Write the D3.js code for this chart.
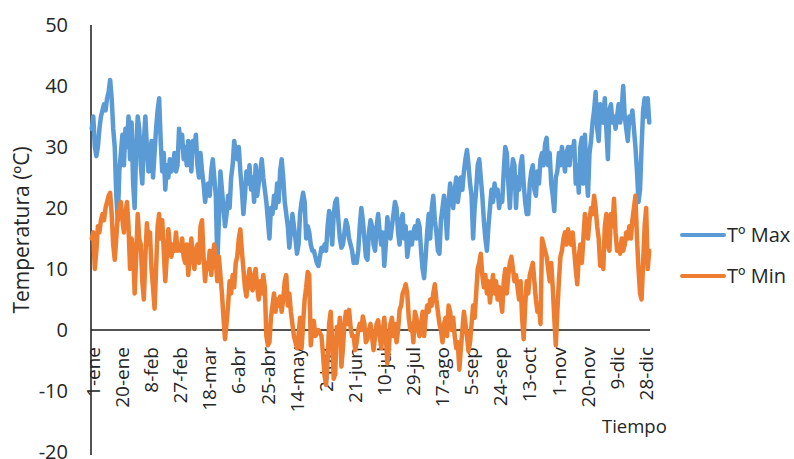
<!DOCTYPE html>
<html>
<head>
<meta charset="utf-8">
<script src="https://cdn.jsdelivr.net/npm/d3@7"></script>
<style>
  body { margin: 0; background: #fff; }
  svg text { font-family: "Open Sans", sans-serif; fill: #262626; }
</style>
</head>
<body>
<div id="chart"></div>
<script>
// categories: one per day of the year, "1-ene" ... "31-dic"
const months = ['ene', 'feb', 'mar', 'abr', 'may', 'jun', 'jul', 'ago', 'sep', 'oct', 'nov', 'dic'];
const monthDays = [31, 28, 31, 30, 31, 30, 31, 31, 30, 31, 30, 31];
const days = [];
months.forEach((m, i) => { for (let d = 1; d <= monthDays[i]; d++) days.push(d + '-' + m); });

// labels shown on the category axis (every 19th day)
const tickLabels = ['1-ene', '20-ene', '8-feb', '27-feb', '18-mar', '6-abr', '25-abr', '14-may', '2-jun', '21-jun',
  '10-jul', '29-jul', '17-ago', '5-sep', '24-sep', '13-oct', '1-nov', '20-nov', '9-dic', '28-dic'];
const yTicks = [-20, -10, 0, 10, 20, 30, 40, 50];

const seriesNames = ['Tº Max', 'Tº Min'];

// daily maximum temperature (ºC)
const tmax = [
  33, 35, 30, 28.5, 30, 33, 35, 36, 37, 36, 38, 39, 41, 38, 33, 30, 22, 18, 26,
  29, 32, 27, 33, 30, 35, 28, 34, 24, 20, 30, 35, 33, 27, 24, 31, 35, 30, 26,
  28, 31, 25, 29, 33, 36, 38, 31, 26, 29, 23, 27, 25, 28, 26, 27, 29, 26, 27,
  33, 30, 32, 28, 30, 27, 31, 29, 26, 31, 30, 32, 27, 25, 29, 26, 24, 21, 23,
  24, 22, 26, 28, 25, 22, 11, 18, 26, 23, 20, 17, 19, 22, 20, 25, 27, 31, 29,
  28, 30, 26, 23, 19, 22, 26, 24, 27, 23, 25, 21, 27, 22, 24, 26, 28, 25, 23,
  21, 18, 15, 20, 19, 22, 20, 24, 21, 26, 28, 25, 21, 19, 17, 13.5, 16, 19, 17,
  15, 12.5, 14, 19, 21, 22.5, 21, 15, 17, 16, 14, 13, 13, 12, 11, 10.5, 12, 13.5, 13,
  14, 13, 17, 19.5, 18, 14, 19, 21, 21.5, 18, 15, 13.5, 14, 16, 18, 17, 15, 14, 13,
  11, 12, 11, 13, 17, 20, 18, 15, 12, 11.5, 16, 18, 17, 14, 13, 17, 19, 16, 14,
  16, 10.5, 14, 18.5, 16, 15, 17, 19, 21, 20, 16, 14, 18, 19, 15, 17, 12, 14, 16,
  14, 16, 17, 15, 18, 17, 13, 10, 8.5, 12, 16, 19, 15, 20, 22, 18, 16, 13, 12.5,
  18, 20, 22, 19, 15, 21, 24, 22, 20, 23, 25, 21, 23, 25, 23, 26, 28, 29.5, 27,
  24, 22, 15, 20, 23, 27, 28, 25, 22, 18, 15, 13, 17, 20, 23, 21, 24, 22, 23,
  20, 22, 21, 26, 30, 29, 24, 20, 25, 28, 27, 20, 25, 23, 27, 28.5, 24, 21, 19,
  19, 24, 26, 27, 23, 22, 26, 24, 28, 29, 27, 30.5, 31.5, 27, 29, 24, 22, 19.5, 25,
  26, 29, 27, 30, 28, 26, 29, 30, 27, 30, 29, 31, 24, 27, 22.5, 30, 31.5, 24, 32,
  26, 22, 29, 31, 34, 36, 39, 33, 31, 37, 35, 34, 38, 33, 28, 36, 37, 34, 35,
  33, 35, 37, 34, 36, 40, 35, 33, 31, 35, 34, 36, 33, 30, 26, 21, 23, 30, 36,
  38, 35, 38, 34
];

// daily minimum temperature (ºC)
const tmin = [
  15, 16, 10, 13, 17, 16, 18, 19, 18, 20, 21, 22, 22.5, 19, 14, 11.5, 15, 19, 20,
  21, 18, 16, 19, 21, 17, 10, 15, 13, 6, 12, 19, 15, 14, 8, 5, 12, 17.5, 14,
  16, 10, 7, 3.5, 10, 17, 19, 15, 18, 13, 8, 12, 16.5, 14, 12, 14, 13, 16, 13,
  14, 13, 15, 12, 11, 14, 9, 12, 15, 12, 10, 13, 14, 11, 17, 18, 12, 8, 11,
  10, 13, 9, 12, 14, 11, 8, 12, 9, 6, 2, -1.5, 1, 4, 8, 6, 9, 7, 11,
  12, 15, 16.5, 13, 10, 7, 5.5, 8, 10, 7, 6.5, 9, 10, 7, 5, 8, 6, 9, 7,
  -1, -2.5, -2, 2, 4, 6, 3, 5, 4, 5.5, 3, 5, 8, 9, 4, 6, 3, 1, -1,
  -2, -3, -1, 2, -3, 1, 5, 7, 9.5, 9, -2.5, 0, 1.5, -1, -0.5, 0, -0.5, -1, -4,
  -7.5, -9, -5, 1, 3, -2, -8, -7, 0.5, -1, 2, -6, -3, 1, 3, 1, 3.3, 0.5, -1,
  -1, -3.3, -2, 0, 1, 0, 2.2, 1, -2, -1.5, 0, 1, -1, -3.3, -1, 1, 1.6, -1, -3,
  0, 2, -1, -5.5, -3, 1, 2, -1, 1, -2, 0, 3.3, 4, 6, 6.6, 7.5, 6, 2, 0,
  1, -2, 3, 2, 0, -1, 1, 3, -1, 2, 4, 3, 5, 4, 6, 7.5, 5, 3, 1,
  0, -2, 1, 2, -1, 4, 3, 0, 2, -1, -3, -2, -6.5, -3, 0, 3, 1, -1, -3.5,
  -2, 1, 4, 2, 6, 10, 11, 12.5, 9, 7, 9, 6, 8, 4.5, 7, 9, 6, 8, 5,
  7, 5, 3, 8, 10, 6, 9, 11, 12, 10, 8, 9, 7, 5, 8, 2, -1.5, 4, 8,
  6, 9, 10, 11, 8, 5, 3, 4, 1, 15, 14, 13, 12, 10, 8, 11, 7, 2, -2.5,
  3, 8, 12, 13, 15, 16, 14, 16.5, 15, 14, 16, 13, 10, 7.5, 12, 14, 11, 15, 19,
  17, 15, 18, 20, 19, 22, 20, 17, 15, 10.5, 12, 10, 17, 19, 14, 13, 19, 17, 21.5,
  16, 13, 14, 12.5, 15, 13, 14, 16, 15, 17, 15, 18, 20, 22, 15, 10, 6, 5, 11,
  17, 20, 10, 13
];

const colors = ['#5B9BD5', '#ED7D31'];
const width = 794, height = 459;
const plot = { left: 91, right: 650, top: 25, bottom: 452 };

const svg = d3.select('#chart').append('svg')
  .attr('width', width)
  .attr('height', height);

// scales
const x = d3.scalePoint()
  .domain(days)
  .range([plot.left, plot.right])
  .padding(0.5);
const y = d3.scaleLinear()
  .domain([-20, 50])
  .range([plot.bottom, plot.top]);

// y axis: labels only, plus the vertical line
const yAxis = svg.append('g')
  .attr('transform', `translate(${plot.left},0)`)
  .call(d3.axisLeft(y).tickValues(yTicks).tickFormat(d => String(d)).tickSize(0).tickPadding(23));
yAxis.select('.domain').remove();
yAxis.selectAll('text')
  .style('font-size', '20px')
  .attr('fill', '#262626');

svg.append('line')
  .attr('x1', plot.left).attr('x2', plot.left)
  .attr('y1', plot.top).attr('y2', 455)
  .attr('stroke', '#1a1a1a')
  .attr('stroke-width', 1.5);

// category axis sits on y = 0
const xAxis = svg.append('g')
  .attr('transform', `translate(0,${y(0)})`)
  .call(d3.axisBottom(x).tickValues(days.filter(d => tickLabels.includes(d))).tickSize(0));
xAxis.select('.domain')
  .attr('d', `M${plot.left},0H${plot.right}`)
  .attr('stroke', '#1a1a1a')
  .attr('stroke-width', 1.5);
xAxis.selectAll('text')
  .style('font-size', '19px')
  .attr('fill', '#262626')
  .attr('text-anchor', 'end')
  .attr('transform', 'rotate(-90)')
  .attr('x', -17)
  .attr('y', 1)
  .attr('dy', '0.35em');

// series lines
const line = d3.line()
  .x((d, i) => x(days[i]))
  .y(d => y(d));

[tmax, tmin].forEach((values, k) => {
  svg.append('path')
    .datum(values)
    .attr('fill', 'none')
    .attr('stroke', colors[k])
    .attr('stroke-width', 4.5)
    .attr('stroke-linejoin', 'round')
    .attr('stroke-linecap', 'round')
    .attr('d', line);
});

// axis titles
svg.append('text')
  .attr('transform', 'translate(29,230) rotate(-90)')
  .attr('text-anchor', 'middle')
  .style('font-size', '21px')
  .text('Temperatura (ºC)');

svg.append('text')
  .attr('x', 602)
  .attr('y', 433)
  .style('font-size', '18.5px')
  .text('Tiempo');

// legend
const legend = svg.append('g');
seriesNames.forEach((name, k) => {
  const ly = 235 + k * 41;
  legend.append('line')
    .attr('x1', 682).attr('x2', 724)
    .attr('y1', ly).attr('y2', ly)
    .attr('stroke', colors[k])
    .attr('stroke-width', 4)
    .attr('stroke-linecap', 'round');
  legend.append('text')
    .attr('x', 727)
    .attr('y', ly)
    .attr('dy', '0.35em')
    .style('font-size', '20px')
    .text(name);
});
</script>
</body>
</html>
